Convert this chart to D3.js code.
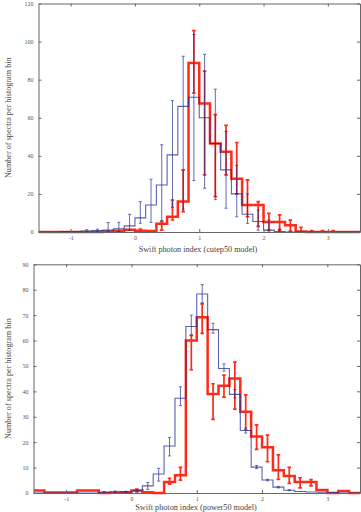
<!DOCTYPE html>
<html><head><meta charset="utf-8">
<script src="https://cdn.jsdelivr.net/npm/d3@7"></script>
<style>html,body{margin:0;padding:0;background:#fff;} svg{display:block;}</style>
</head><body><svg id="c" width="361" height="512"></svg>
<script>
// Histogram bin edges (Swift photon index), bin width 1/6
const binEdges = [-1.5, -1.3333, -1.1667, -1, -0.8333, -0.6667, -0.5, -0.3333, -0.1667, 0,
  0.1667, 0.3333, 0.5, 0.6667, 0.8333, 1, 1.1667, 1.3333, 1.5, 1.6667, 1.8333, 2,
  2.1667, 2.3333, 2.5, 2.6667, 2.8333, 3, 3.1667, 3.3333, 3.5];
const xTicks = [-1, 0, 1, 2, 3];

// ---- Top panel (cutep50 model) ----
const topYTicks = [0, 20, 40, 60, 80, 100, 120];
const topBlue = [0, 0, 0.2, 0.3, 0.5, 0.7, 1, 1.7, 3.2, 7.4, 14.2, 24.7, 40.5, 66, 70.8, 60, 46.5, 32.6, 20, 9.3, 5.5, 1, 0.3, 0, 0, 0, 0, 0, 0, 0];
const topBlueLo = [null, null, null, null, 0, 0, 0.2, 0.3, 1, 4.6, 5, 6, 13, 12, 27, 23, 17, 12.5, 8, 4.5, 1, 0, 0, null, null, null, null, null, null, null];
const topBlueHi = [null, null, null, null, 1.2, 1.5, 5, 5.1, 9.3, 16, 27.7, 45.8, 69, 92.3, 103.7, 93.3, 75, 52.8, 35, 20, 11.5, 6.3, 1.5, null, null, null, null, null, null, null];
const topRed = [0, 0, 0, 0, 0, 0, 0.3, 0.6, 1.2, 0.7, 0.5, 4.3, 8, 16, 88.8, 67.5, 46.5, 42.2, 28, 14.2, 14.2, 5.2, 5.2, 3.5, 0.3, 0, 0, 0, 0, 0];
const topRedLo = [null, null, null, null, null, null, null, null, null, 0, null, 1, 6.3, 10.7, 73, 30, 18.6, 30, 20, 8, 3, 1, 1, 0.5, 0, 0, 0, 0, null, null];
const topRedHi = [null, null, null, null, null, null, null, null, null, 1.5, null, 5.5, 16.8, 32.6, 105.8, 84.5, 61.6, 56, 47, 27.4, 16, 9.8, 9, 6.2, 2.5, 0.8, 0.8, 0.8, null, null];

// ---- Bottom panel (power50 model) ----
const botYTicks = [0, 10, 20, 30, 40, 50, 60, 70, 80, 90];
const botBlue = [0, 0, 0, 0, 0, 0, 0.3, 0.5, 0.4, 0.9, 2.8, 7.5, 18.5, 37.3, 65.5, 78.3, 64.3, 49, 38.8, 24.6, 10.2, 5.1, 2.3, 1.1, 0.6, 0.4, 0.3, 0.2, 0, 0];
const botBlueLo = [null, null, null, null, null, null, 0, 0.2, 0.1, 0.4, 1.4, 4.7, 14.6, 34.4, 62.2, 74.9, 62.9, 48, 37.4, 23.6, 9.6, 4.8, 2, 0.9, null, null, null, null, null, null];
const botBlueHi = [null, null, null, null, null, null, 0.6, 0.8, 0.7, 1.4, 4.1, 9.7, 21.9, 41.8, 70, 82, 66.8, 50.8, 40.7, 25.6, 10.8, 5.4, 2.6, 1.3, null, null, null, null, null, null];
const botRed = [1, 0.2, 0.2, 0.2, 1, 1, 0, 0.1, 0.3, 1, 0.3, 0, 4.3, 7, 60, 69.2, 39, 42.2, 45.1, 32, 22.2, 18, 9, 6.7, 4.3, 4.3, 1.2, 0, 0.8, 0];
const botRedLo = [null, null, null, null, null, null, null, null, null, 0.5, null, null, 3.5, 5.1, 48.5, 62.8, 29, 37.7, 33, 24.8, 17.2, 12.3, 5.4, 3.8, 2, 2.8, null, null, null, null];
const botRedHi = [null, null, null, null, null, null, null, null, null, 1.5, null, null, 5.8, 10.1, 62, 74.4, 43, 46.4, 51.5, 38.6, 26.8, 22.8, 15, 10.1, 6, 5.3, null, null, null, null];

const svg = d3.select('#c');
const FONT = 'Liberation Serif, Times New Roman, serif';
const BLUE = '#1f2d91', RED = '#ff2a1a';

function panel(cfg) {
  const x = d3.scaleLinear().domain([binEdges[0], binEdges[binEdges.length - 1]]).range([cfg.left, cfg.right]);
  const y = d3.scaleLinear().domain([0, cfg.yMax]).range([cfg.bottom, cfg.top]);
  const g = svg.append('g');
  const clipId = 'clip' + cfg.id;
  svg.append('clipPath').attr('id', clipId).append('rect')
    .attr('x', cfg.left).attr('y', cfg.top - 2).attr('width', cfg.right - cfg.left).attr('height', cfg.bottom - cfg.top + 4);
  const data = g.append('g').attr('clip-path', `url(#${clipId})`);

  const stepLine = d3.line().x(d => x(d[0])).y(d => y(d[1])).curve(d3.curveStepAfter);
  const pts = vals => vals.map((v, i) => [binEdges[i], v]).concat([[binEdges[vals.length], vals[vals.length - 1]]]);

  function errs(vals, lo, hi, color, w, op, cap) {
    const eg = data.append('g').attr('stroke', color).attr('stroke-width', w).attr('opacity', op);
    vals.forEach((v, i) => {
      if (lo[i] == null || hi[i] == null) return;
      const cx = x((binEdges[i] + binEdges[i + 1]) / 2);
      eg.append('line').attr('x1', cx).attr('x2', cx).attr('y1', y(lo[i])).attr('y2', y(hi[i]));
      [lo[i], hi[i]].forEach(e => eg.append('line').attr('x1', cx - cap).attr('x2', cx + cap).attr('y1', y(e)).attr('y2', y(e)));
    });
  }
  // red (thick, opaque)
  data.append('path').attr('d', stepLine(pts(cfg.red))).attr('fill', 'none').attr('stroke', RED).attr('stroke-width', 2.5);
  errs(cfg.red, cfg.redLo, cfg.redHi, RED, 1.7, 1, 1.8);
  // blue (thin, translucent, on top)
  data.append('path').attr('d', stepLine(pts(cfg.blue))).attr('fill', 'none').attr('stroke', BLUE).attr('stroke-width', 1.1).attr('opacity', 0.75);
  errs(cfg.blue, cfg.blueLo, cfg.blueHi, BLUE, 1, 0.7, 1.5);

  // axes
  const fs = 6;
  const ax = g.append('g').attr('font-family', FONT);
  const bottom = ax.append('g').attr('transform', `translate(0,${cfg.bottom})`)
    .call(d3.axisBottom(x).tickValues(xTicks).tickSizeInner(-3).tickSizeOuter(0).tickPadding(4).tickFormat(d3.format('d')));
  ax.append('g').attr('transform', `translate(0,${cfg.top})`)
    .call(d3.axisTop(x).tickValues(xTicks).tickSizeInner(-3).tickSizeOuter(0).tickFormat(''));
  ax.append('g').attr('transform', `translate(${cfg.left},0)`)
    .call(d3.axisLeft(y).tickValues(cfg.yTicks).tickSizeInner(-3).tickSizeOuter(0).tickPadding(5));
  ax.append('g').attr('transform', `translate(${cfg.right},0)`)
    .call(d3.axisRight(y).tickValues(cfg.yTicks).tickSizeInner(-3).tickSizeOuter(0).tickFormat(''));
  ax.selectAll('.domain').attr('stroke', '#666').attr('stroke-width', 1);
  ax.selectAll('.tick line').attr('stroke', '#666');
  ax.selectAll('text').attr('font-size', fs).attr('fill', '#555').attr('font-family', FONT);
  bottom.selectAll('text').text(d => d < 0 ? '-' + Math.abs(d) : d);

  g.append('text').attr('x', cfg.titleX).attr('y', cfg.titleY).attr('text-anchor', 'middle')
    .attr('font-family', FONT).attr('font-size', 8.2).attr('fill', '#444').text(cfg.xTitle);
  g.append('text').attr('transform', `translate(11,${(cfg.top + cfg.bottom) / 2}) rotate(-90)`).attr('text-anchor', 'middle')
    .attr('font-family', FONT).attr('font-size', 8.2).attr('fill', '#444').text('Number of spectra per histogram bin');
}

panel({id: 'a', left: 38.5, right: 360, top: 3.5, bottom: 232, yMax: 120, yTicks: topYTicks,
  blue: topBlue, blueLo: topBlueLo, blueHi: topBlueHi, red: topRed, redLo: topRedLo, redHi: topRedHi,
  xTitle: 'Swift photon index (cutep50 model)', titleX: 198, titleY: 251.5});
panel({id: 'b', left: 33.5, right: 360, top: 264.3, bottom: 493, yMax: 90, yTicks: botYTicks,
  blue: botBlue, blueLo: botBlueLo, blueHi: botBlueHi, red: botRed, redLo: botRedLo, redHi: botRedHi,
  xTitle: 'Swift photon index (power50 model)', titleX: 196, titleY: 509.8});
</script></body></html>
